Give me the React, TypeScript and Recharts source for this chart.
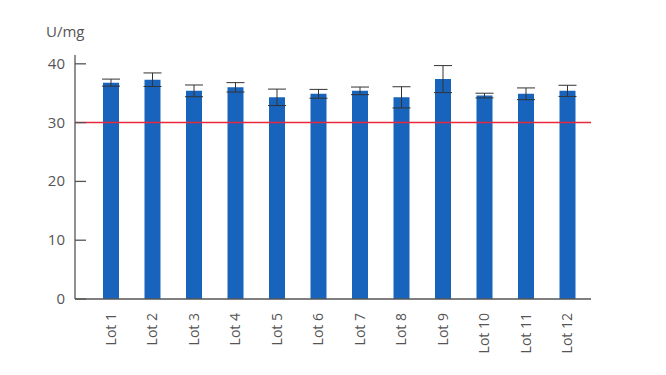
import { BarChart, Bar, XAxis, YAxis, ErrorBar, ReferenceLine } from "recharts";

const lots = ["Lot 1", "Lot 2", "Lot 3", "Lot 4", "Lot 5", "Lot 6", "Lot 7", "Lot 8", "Lot 9", "Lot 10", "Lot 11", "Lot 12"];
const activity = [36.8, 37.3, 35.4, 36.0, 34.3, 34.9, 35.4, 34.3, 37.4, 34.6, 34.9, 35.4];
const spread = [0.6, 1.15, 1.0, 0.8, 1.4, 0.75, 0.65, 1.8, 2.3, 0.4, 1.0, 0.95];
const yTicks = [0, 10, 20, 30, 40];
const limit = 30;

const data = lots.map((name, i) => ({ name, value: activity[i], err: spread[i] }));

const FONT = "'Open Sans', sans-serif";
const TEXT = "#555";

const YTick = (props: any) => {
  const { x, y, payload } = props;
  return (
    <g>
      <text x={x} y={y} dy={5} textAnchor="end" fill={TEXT} fontSize={15} fontFamily={FONT}>
        {payload.value}
      </text>
      <line x1={x + 10} x2={x + 21} y1={y} y2={y} stroke={TEXT} strokeWidth={1.3} />
    </g>
  );
};

const XTick = (props: any) => {
  const { x, y, payload } = props;
  return (
    <text
      x={x}
      y={y}
      dy={5}
      textAnchor="end"
      fill={TEXT}
      fontSize={14}
      fontFamily={FONT}
      transform={`rotate(-90, ${x}, ${y})`}
    >
      {payload.value}
    </text>
  );
};

export default function App() {
  return (
    <div style={{ position: "fixed", left: 0, top: 0, width: 666, height: 375, background: "#fff" }}>
      <span
        style={{ position: "absolute", left: 46, top: 21, fontSize: 15, fontFamily: FONT, color: TEXT }}
      >
        U/mg
      </span>
      <BarChart width={666} height={375} data={data} margin={{ top: 55, right: 75, bottom: 0, left: 0 }}>
        <XAxis
          dataKey="name"
          interval={0}
          height={76}
          padding={{ left: 15, right: 3 }}
          tickSize={0}
          tickMargin={14}
          tick={<XTick />}
          axisLine={{ stroke: TEXT, strokeWidth: 1.3 }}
        />
        <YAxis
          width={75}
          domain={[0, 41.5]}
          ticks={yTicks}
          tickSize={0}
          tickMargin={10}
          tick={<YTick />}
          axisLine={{ stroke: TEXT, strokeWidth: 1.3 }}
        />
        <Bar dataKey="value" fill="#1864bc" barSize={16} isAnimationActive={false}>
          <ErrorBar dataKey="err" width={9} stroke="#333" strokeWidth={1} />
        </Bar>
        <ReferenceLine y={limit} stroke="#e8283c" strokeWidth={1.5} ifOverflow="extendDomain" />
      </BarChart>
    </div>
  );
}
